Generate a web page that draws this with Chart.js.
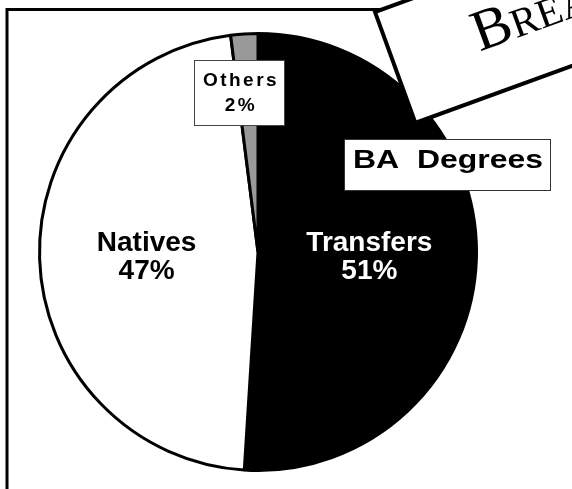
<!DOCTYPE html>
<html>
<head>
<meta charset="utf-8">
<script src="https://cdn.jsdelivr.net/npm/chart.js@4/dist/chart.umd.min.js"></script>
<style>
  html, body { margin: 0; padding: 0; background: #fff; overflow: hidden; }
  #wrap { width: 572px; height: 489px; }
</style>
</head>
<body>
<div id="wrap"><canvas id="pieChart" width="572" height="489"></canvas></div>
<script>
// Degree breakdown data
var categories = ['Transfers', 'Natives', 'Others'];
var shares = [51, 47, 2];
var sliceColors = ['#000000', '#ffffff', '#999999'];
var labelColors = ['#ffffff', '#000000', '#000000'];
var chartTitle = 'BA  Degrees';
var slideTitle = 'Breakdown';

var pieChartInstance = null;

// draws frame, slice labels and the boxes on top of the pie
var overlayPlugin = {
    id: 'overlay',
    afterDraw: function(chart) {
        const ctx = chart.ctx;
        const meta = chart.getDatasetMeta(0);
        const cx = (chart.chartArea.left + chart.chartArea.right) / 2;

        ctx.save();

        // frame (top + left edge)
        ctx.strokeStyle = '#000';
        ctx.lineWidth = 3;
        ctx.beginPath();
        ctx.moveTo(7, 489);
        ctx.lineTo(7, 9.5);
        ctx.lineTo(390, 9.5);
        ctx.stroke();

        // big slice labels (Transfers, Natives)
        ctx.font = 'bold 28px "Liberation Sans", Arial, sans-serif';
        ctx.textAlign = 'center';
        ctx.textBaseline = 'alphabetic';
        for (let i = 0; i < 2; i++) {
            const arc = meta.data[i];
            const mid = (arc.startAngle + arc.endAngle) / 2;
            const x = cx + Math.cos(mid) * arc.outerRadius * 0.51;
            ctx.fillStyle = labelColors[i];
            ctx.fillText(categories[i], x, 251);
            ctx.fillText(shares[i] + '%', x, 279);
        }

        // Others label box
        ctx.fillStyle = '#fff';
        ctx.fillRect(194.5, 60.5, 90, 65);
        ctx.strokeStyle = '#444';
        ctx.lineWidth = 1;
        ctx.strokeRect(194.5, 60.5, 90, 65);
        ctx.fillStyle = '#000';
        ctx.font = 'bold 19px "Liberation Sans", Arial, sans-serif';
        ctx.letterSpacing = '2.5px';
        ctx.fillText(categories[2], 241, 86);
        ctx.fillText(shares[2] + '%', 241, 111);
        ctx.letterSpacing = '0px';

        // chart title box
        ctx.fillStyle = '#fff';
        ctx.fillRect(344.5, 139.5, 206, 51);
        ctx.strokeStyle = '#333';
        ctx.strokeRect(344.5, 139.5, 206, 51);
        ctx.fillStyle = '#000';
        ctx.textAlign = 'left';
        ctx.font = 'bold 26px "Liberation Sans", Arial, sans-serif';
        const tw = ctx.measureText(chartTitle).width;
        ctx.save();
        ctx.translate(353, 168);
        ctx.scale(190 / tw, 1);
        ctx.fillText(chartTitle, 0, 0);
        ctx.restore();

        // tilted slide title card
        ctx.save();
        ctx.translate(375, 12);
        ctx.rotate(-20 * Math.PI / 180);
        ctx.fillStyle = '#fff';
        ctx.fillRect(0, 0, 420, 118);
        ctx.strokeStyle = '#000';
        ctx.lineWidth = 4;
        ctx.strokeRect(0, 0, 420, 118);
        ctx.fillStyle = '#000';
        ctx.font = 'small-caps 58px "Liberation Serif", "Times New Roman", serif';
        ctx.fillText(slideTitle, 85, 73);
        ctx.restore();

        ctx.restore();
    }
};

function createPieChart() {
    const ctx = document.getElementById('pieChart');
    if (pieChartInstance) pieChartInstance.destroy();

    pieChartInstance = new Chart(ctx, {
        type: 'pie',
        data: {
            labels: categories,
            datasets: [{
                data: shares,
                backgroundColor: sliceColors,
                borderColor: '#000',
                borderWidth: 3
            }]
        },
        options: {
            responsive: false,
            devicePixelRatio: 1,
            animation: false,
            layout: { padding: { left: 38, top: 32, right: 94, bottom: 17 } },
            plugins: {
                legend: { display: false },
                tooltip: { enabled: false }
            }
        },
        plugins: [overlayPlugin]
    });
}

createPieChart();
</script>
</body>
</html>
